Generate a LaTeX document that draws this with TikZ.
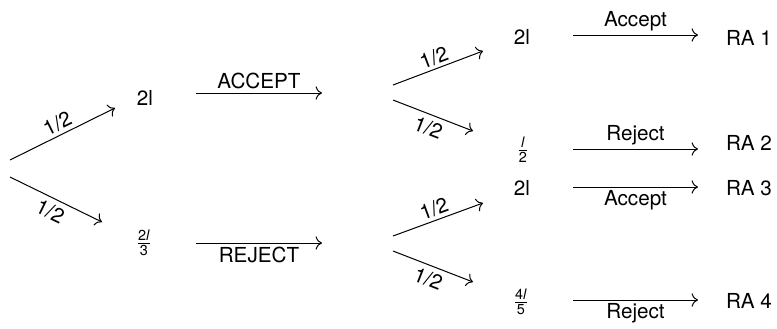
\documentclass[tikz,border=0pt]{standalone}
\usepackage{amsmath}
\usepackage{fontspec}
\setmainfont{TeX Gyre Heros}
\usetikzlibrary{arrows.meta}
\begin{document}
\fontsize{12.4}{15}\selectfont
\begin{tikzpicture}[x=0.6pt,y=-0.6pt,>={To[scale=1.3]},
  every node/.style={font=\fontsize{12.4}{15}\selectfont},
  arr/.style={->,line width=0.6pt},
  lab/.style={inner sep=2pt},
  prob/.style={sloped,inner sep=2pt}]
\useasboundingbox (0,0) rectangle (777,328);
% text nodes
\node (a) at (145,98) {2l};
\node (b) at (144,243) {$\frac{\text{2\textit{l}}}{\text{3}}$};
\node (c) at (522,37) {2l};
\node (d) at (523,150) {$\frac{\text{\textit{l}}}{\text{2}}$};
\node (e) at (522,188) {2l};
\node (f) at (521,302) {$\frac{\text{4\textit{l}}}{\text{5}}$};
\node (r1) at (749,38) {RA 1};
\node (r2) at (749,143) {RA 2};
\node (r3) at (749,188) {RA 3};
\node (r4) at (749,301) {RA 4};
% coordinates
\coordinate (s1) at (10,160); \coordinate (t1) at (115,108);
\coordinate (s2) at (10,177); \coordinate (t2) at (102,222);
\coordinate (m1) at (196,93); \coordinate (n1) at (322,93);
\coordinate (m2) at (196,243); \coordinate (n2) at (322,243);
\coordinate (u1) at (393,85); \coordinate (v1) at (483,51);
\coordinate (u2) at (393,100); \coordinate (v2) at (473,131);
\coordinate (u3) at (393,236); \coordinate (v3) at (483,203);
\coordinate (u4) at (393,251); \coordinate (v4) at (473,282);
\coordinate (p1) at (573,35); \coordinate (q1) at (698,35);
\coordinate (p2) at (573,149); \coordinate (q2) at (698,149);
\coordinate (p3) at (573,187); \coordinate (q3) at (698,187);
\coordinate (p4) at (573,300); \coordinate (q4) at (698,300);
% arrows
\draw[arr] (s1) -- node[prob,above] {1/2} (t1);
\draw[arr] (s2) -- node[prob,below,yshift=-1pt] {1/2} (t2);
\draw[arr] (m1) -- node[lab,above] {ACCEPT} (n1);
\draw[arr] (m2) -- node[lab,below] {REJECT} (n2);
\draw[arr] (u1) -- node[prob,above] {1/2} (v1);
\draw[arr] (u2) -- node[prob,below,yshift=-1pt] {1/2} (v2);
\draw[arr] (u3) -- node[prob,above] {1/2} (v3);
\draw[arr] (u4) -- node[prob,below,yshift=-1pt] {1/2} (v4);
\draw[arr] (p1) -- node[lab,above] {Accept} (q1);
\draw[arr] (p2) -- node[lab,above] {Reject} (q2);
\draw[arr] (p3) -- node[lab,below] {Accept} (q3);
\draw[arr] (p4) -- node[lab,below] {Reject} (q4);
\end{tikzpicture}
\end{document}
